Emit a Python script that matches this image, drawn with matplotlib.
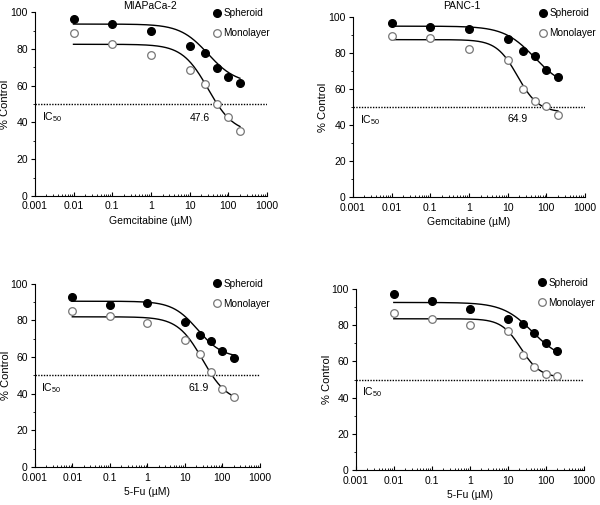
import matplotlib
matplotlib.use('Agg')
import matplotlib.pyplot as plt
import numpy as np
from matplotlib.ticker import FixedLocator, LogLocator, MultipleLocator, FuncFormatter

plt.rcParams['font.family'] = ['Liberation Sans', 'DejaVu Sans']
plt.rcParams['mathtext.fontset'] = 'custom'
plt.rcParams['mathtext.rm'] = 'Liberation Sans'

# doses (uM)
doses = [0.01, 0.1, 1, 10, 25, 50, 100, 200]

# % control
mia_gem_sph = [96.2, 93.3, 89.9, 81.7, 77.9, 69.7, 64.9, 61.6]
mia_gem_mono = [88.8, 82.8, 76.6, 68.5, 60.7, 50.0, 42.8, 35.5]
panc_gem_sph = [96.5, 94.8, 93.5, 88.0, 81.3, 78.5, 70.4, 66.7]
panc_gem_mono = [89.8, 88.5, 82.2, 75.9, 60.0, 53.1, 50.4, 45.7]
mia_fu_sph = [92.7, 88.7, 89.6, 79.0, 72.2, 68.6, 63.6, 59.8]
mia_fu_mono = [85.0, 82.3, 78.6, 69.1, 61.6, 52.1, 42.6, 38.4]
panc_fu_sph = [97.0, 93.4, 88.8, 83.2, 80.7, 75.9, 70.0, 65.9]
panc_fu_mono = [86.6, 83.2, 80.1, 76.8, 63.5, 57.1, 52.9, 51.9]

# fitted curve parameters: top, bottom, ec50, hill
mia_gem_fit = [[93.5, 61.0, 30, 1.2], [82.5, 34.0, 30, 1.3]]
panc_gem_fit = [[95.0, 60.0, 50, 1.1], [87.5, 47.0, 18, 1.6]]
mia_fu_fit = [[90.5, 59.5, 22, 1.3], [82.0, 35.0, 30, 1.3]]
panc_fu_fit = [[92.5, 60.0, 45, 1.1], [83.5, 51.0, 22, 1.7]]

titles = ['MIAPaCa-2', 'PANC-1', '', '']
xlabels = ['Gemcitabine (\u00b5M)', 'Gemcitabine (\u00b5M)', '5-Fu (\u00b5M)', '5-Fu (\u00b5M)']
ic50_values = ['47.6', '64.9', '61.9', '']
ic50_pos = [(18, 42.5), (18.5, 43.5), (24, 43), None]
xticks = [0.001, 0.01, 0.1, 1, 10, 100, 1000]

panels = [
	(mia_gem_sph, mia_gem_mono, mia_gem_fit),
	(panc_gem_sph, panc_gem_mono, panc_gem_fit),
	(mia_fu_sph, mia_fu_mono, mia_fu_fit),
	(panc_fu_sph, panc_fu_mono, panc_fu_fit),
]

rects = [
	[0.058, 0.612, 0.387, 0.364],
	[0.588, 0.610, 0.387, 0.356],
	[0.058, 0.075, 0.375, 0.363],
	[0.593, 0.069, 0.380, 0.359],
]
legend_anchor = [(0.765, 1.02), (0.80, 1.05), (0.79, 1.027), (0.796, 1.06)]
title_x = [0.25, 0.77]


def logistic(x, top, bottom, ec50, hill):
	return bottom + (top - bottom) / (1 + (x / ec50) ** hill)


fig = plt.figure(figsize=(6, 5.05), dpi=100)

for i, (sph, mono, fit) in enumerate(panels):
	ax = fig.add_axes(rects[i])
	xs = np.logspace(np.log10(doses[0]), np.log10(doses[-1]), 300)

	# fitted curves
	ax.plot(xs, logistic(xs, *fit[0]), color='black', lw=1.0, zorder=2)
	ax.plot(xs, logistic(xs, *fit[1]), color='black', lw=1.0, zorder=2)

	# points
	ax.plot(doses, sph, 'o', ms=5.5, mfc='black', mec='black', ls='none', label='Spheroid', zorder=3)
	ax.plot(doses, mono, 'o', ms=5.5, mfc='white', mec='#777777', mew=0.9, ls='none', label='Monolayer', zorder=3)

	# IC50 line
	ax.axhline(50, color='black', lw=1.0, ls=(0, (1, 1)), zorder=1)
	ax.text(0.0015, 43, 'IC$_{50}$', fontsize=7.5, va='center', ha='left')
	if ic50_values[i]:
		ax.text(ic50_pos[i][0], ic50_pos[i][1], ic50_values[i], fontsize=7.5, ha='center', va='center')

	ax.set_xscale('log')
	ax.set_xlim(0.001, 1000)
	ax.set_ylim(0, 100)
	ax.xaxis.set_major_locator(FixedLocator(xticks))
	ax.xaxis.set_major_formatter(FuncFormatter(lambda v, p: '%g' % v))
	ax.xaxis.set_minor_locator(LogLocator(base=10, subs=np.arange(2, 10)))
	ax.yaxis.set_major_locator(MultipleLocator(20))
	ax.yaxis.set_minor_locator(MultipleLocator(10))

	for s in ['top', 'right']:
		ax.spines[s].set_visible(False)
	ax.tick_params(axis='x', which='major', direction='in', length=3, labelsize=7.5, pad=4)
	ax.tick_params(axis='x', which='minor', direction='in', length=1.5)
	ax.tick_params(axis='y', which='major', direction='out', length=3, labelsize=7.5, pad=2)
	ax.tick_params(axis='y', which='minor', direction='out', length=1.5)

	ax.set_xlabel(xlabels[i], fontsize=7.5, labelpad=3)
	ax.set_ylabel('% Control', fontsize=8)
	ax.yaxis.set_label_coords(-0.105, 0.5)
	if titles[i]:
		fig.text(title_x[i], 1 - 6 / 505, titles[i], fontsize=7.5, ha='center', va='center')

	ax.legend(loc='upper left', bbox_to_anchor=legend_anchor[i], frameon=False, fontsize=7.2,
		handlelength=0.9, handletextpad=0.2, labelspacing=1.0, borderpad=0, borderaxespad=0)

fig.savefig('out.png', dpi=100)
